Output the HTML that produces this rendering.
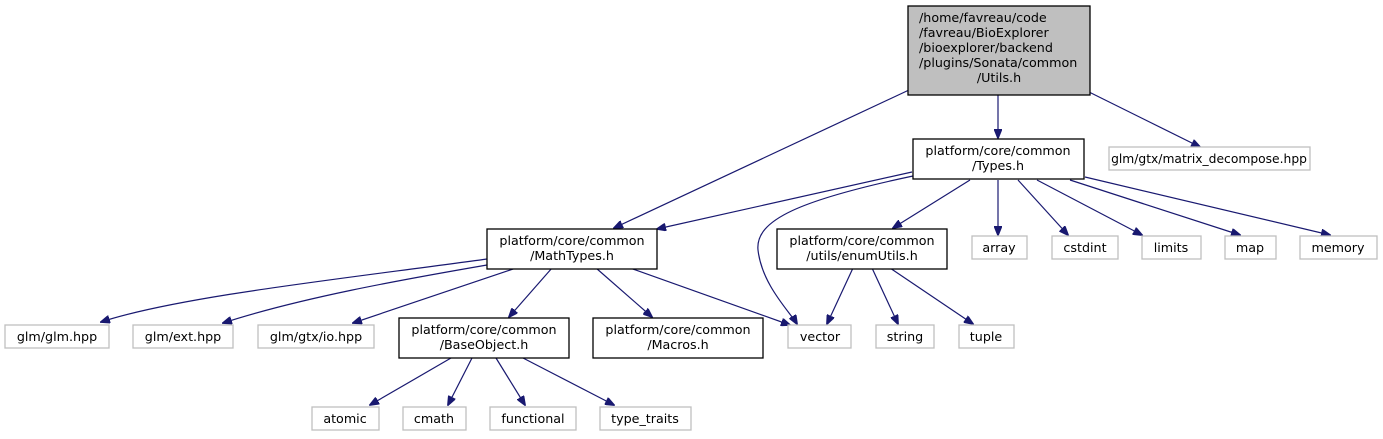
<!DOCTYPE html>
<html><head><meta charset="utf-8"><style>
html,body{margin:0;padding:0;background:#fff;}
svg{display:block;}
text{font-family:"DejaVu Sans","Liberation Sans",sans-serif;font-size:12.7px;fill:#000;text-anchor:middle;}
.g{fill:#fff;stroke:#bfbfbf;stroke-width:1.3;}
.b{fill:#fff;stroke:#000;stroke-width:1.3;}
.e{fill:none;stroke:#191970;stroke-width:1.2;}
</style></head><body>
<svg width="1383" height="439" viewBox="0 0 1383 439" xmlns="http://www.w3.org/2000/svg">
<defs><marker id="a" markerWidth="10" markerHeight="8" refX="9" refY="4" orient="auto" markerUnits="userSpaceOnUse"><path d="M0,0 L10,4 L0,8 Z" fill="#191970" stroke="#191970"/></marker></defs>

<g class="e" marker-end="url(#a)">
<path d="M909,90 L614,228"/>
<path d="M998,95 L998,138"/>
<path d="M1085,90 L1200,147"/>
<path d="M912,172 L657,229"/>
<path d="M913,176 C800,200 755,220 758,250 C762,285 790,312 797,324"/>
<path d="M970,180 L893,228"/>
<path d="M998,180 L998,235"/>
<path d="M1018,180 L1068,235"/>
<path d="M1037,180 L1142,235"/>
<path d="M1070,180 L1240,235"/>
<path d="M1085,177 L1330,235"/>
<path d="M487,259 C350,278 180,296 101,322"/>
<path d="M487,265 C400,280 300,298 223,323"/>
<path d="M516,268 L353,323"/>
<path d="M552,268 L509,317"/>
<path d="M596,268 L652,317"/>
<path d="M630,268 L790,325"/>
<path d="M853,268 L827,324"/>
<path d="M872,268 L898,324"/>
<path d="M890,268 L973,324"/>
<path d="M451,358 L370,405"/>
<path d="M472,358 L448,405"/>
<path d="M496,358 L525,405"/>
<path d="M523,358 L614,405"/>
</g>

<rect x="908" y="6" width="182" height="89" fill="#bfbfbf" stroke="#000" stroke-width="1.3"/>
<text x="919" y="22" style="text-anchor:start">/home/favreau/code</text>
<text x="919" y="37" style="text-anchor:start">/favreau/BioExplorer</text>
<text x="919" y="52" style="text-anchor:start">/bioexplorer/backend</text>
<text x="919" y="67" style="text-anchor:start">/plugins/Sonata/common</text>
<text x="999" y="82">/Utils.h</text>

<rect class="b" x="913" y="139" width="171" height="40"/>
<text x="998" y="155">platform/core/common</text>
<text x="998" y="170">/Types.h</text>

<rect class="g" x="1109" y="147" width="201" height="23"/>
<text x="1209" y="163" style="font-size:12.3px">glm/gtx/matrix_decompose.hpp</text>

<rect class="b" x="487" y="229" width="170" height="40"/>
<text x="572" y="245">platform/core/common</text>
<text x="572" y="260">/MathTypes.h</text>

<rect class="b" x="777" y="229" width="170" height="40"/>
<text x="862" y="245">platform/core/common</text>
<text x="862" y="260">/utils/enumUtils.h</text>

<rect class="g" x="972" y="236" width="55" height="23"/><text x="999" y="252">array</text>
<rect class="g" x="1052" y="236" width="66" height="23"/><text x="1085" y="252">cstdint</text>
<rect class="g" x="1142" y="236" width="59" height="23"/><text x="1171" y="252">limits</text>
<rect class="g" x="1225" y="236" width="51" height="23"/><text x="1250" y="252">map</text>
<rect class="g" x="1300" y="236" width="77" height="23"/><text x="1338" y="252">memory</text>

<rect class="g" x="5" y="325" width="104" height="23"/><text x="57" y="341">glm/glm.hpp</text>
<rect class="g" x="133" y="325" width="100" height="23"/><text x="183" y="341">glm/ext.hpp</text>
<rect class="g" x="258" y="325" width="116" height="23"/><text x="316" y="341">glm/gtx/io.hpp</text>

<rect class="b" x="399" y="318" width="170" height="40"/>
<text x="484" y="334">platform/core/common</text>
<text x="484" y="349">/BaseObject.h</text>

<rect class="b" x="593" y="318" width="170" height="40"/>
<text x="678" y="334">platform/core/common</text>
<text x="678" y="349">/Macros.h</text>

<rect class="g" x="788" y="325" width="63" height="23"/><text x="820" y="341">vector</text>
<rect class="g" x="876" y="325" width="58" height="23"/><text x="905" y="341">string</text>
<rect class="g" x="959" y="325" width="55" height="23"/><text x="986" y="341">tuple</text>

<rect class="g" x="312" y="407" width="67" height="23"/><text x="345" y="423">atomic</text>
<rect class="g" x="403" y="407" width="63" height="23"/><text x="434" y="423">cmath</text>
<rect class="g" x="490" y="407" width="86" height="23"/><text x="533" y="423">functional</text>
<rect class="g" x="600" y="407" width="91" height="23"/><text x="645" y="423">type_traits</text>
</svg>
</body></html>
